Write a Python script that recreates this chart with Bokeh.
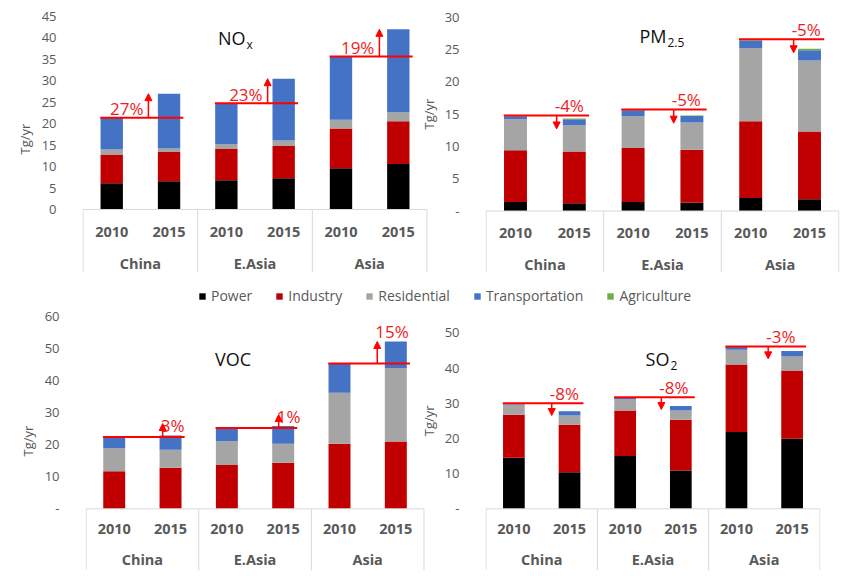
import math
from bokeh.plotting import figure
from bokeh.layouts import column, row
from bokeh.models import (ColumnDataSource, Range1d, FixedTicker, Title, Arrow,
                          NormalHead, Legend, LegendItem)
from bokeh.core.properties import value
from bokeh.embed import file_html
from bokeh.resources import INLINE

# ---------------- data ----------------
regions = ["China", "E.Asia", "Asia"]
years = ["2010", "2015"]
sectors = ["Power", "Industry", "Residential", "Transportation", "Agriculture"]
colors = ["#000000", "#c00000", "#a5a5a5", "#4472c4", "#70ad47"]

# order of bars: China 2010, China 2015, E.Asia 2010, E.Asia 2015, Asia 2010, Asia 2015
nox_power = [6.1, 6.6, 6.8, 7.3, 9.6, 10.6]
nox_industry = [6.7, 6.8, 7.3, 7.5, 9.3, 10.0]
nox_residential = [1.2, 0.8, 1.2, 1.3, 2.0, 2.1]
nox_transport = [7.4, 12.8, 9.5, 14.4, 14.8, 19.3]
nox_agriculture = [0.0, 0.0, 0.0, 0.0, 0.0, 0.0]
nox_change = ["27%", "23%", "19%"]

pm_power = [1.4, 1.2, 1.4, 1.3, 2.0, 1.8]
pm_industry = [8.0, 8.0, 8.35, 8.2, 11.9, 10.5]
pm_residential = [4.8, 4.1, 4.95, 4.2, 11.3, 11.0]
pm_transport = [0.45, 0.9, 0.9, 1.0, 1.2, 1.6]
pm_agriculture = [0.15, 0.1, 0.1, 0.1, 0.2, 0.2]
pm_change = ["-4%", "-5%", "-5%"]

voc_power = [0.0, 0.0, 0.0, 0.0, 0.0, 0.0]
voc_industry = [11.75, 12.8, 13.7, 14.35, 20.3, 21.0]
voc_residential = [7.15, 5.6, 7.4, 5.95, 15.9, 22.9]
voc_transport = [3.5, 4.5, 4.1, 5.5, 9.1, 8.3]
voc_agriculture = [0.0, 0.0, 0.0, 0.0, 0.0, 0.0]
voc_change = ["3%", "1%", "15%"]

so2_power = [14.5, 10.4, 15.0, 10.9, 21.8, 19.9]
so2_industry = [12.2, 13.5, 12.9, 14.4, 19.2, 19.4]
so2_residential = [2.9, 2.6, 3.2, 2.6, 4.2, 4.0]
so2_transport = [0.4, 1.2, 0.6, 1.3, 0.9, 1.5]
so2_agriculture = [0.0, 0.0, 0.0, 0.0, 0.0, 0.0]
so2_change = ["-8%", "-8%", "-3%"]

GREY = "#595959"
RED = "#ff0000"
FONT = "Open Sans"


def geometry(spec):
    scale = (spec["zero"] - spec["top"]) / spec["ymax"]
    slot = (spec["R"] - spec["L"]) / 6.0
    return scale, slot


def make_panel(spec, series, changes):
    ox, oy = spec["ox"], spec["oy"]
    L, R, T, B = spec["L"], spec["R"], spec["T"], spec["B"]
    FR = spec["FR"]
    zero, ymax, step = spec["zero"], spec["ymax"], spec["step"]
    scale, slot = geometry(spec)

    def px2x(px):
        return (px - L) / slot

    def px2y(py):
        return (zero - py) / scale

    y_end = px2y(T)
    y_start = px2y(B)
    p = figure(width=spec["w"], height=spec["h"], x_range=Range1d(-0.01, px2x(FR) + 0.01),
               y_range=Range1d(y_start, y_end), output_backend="svg",
               toolbar_location=None, x_axis_location=None,
               min_border_left=L - ox, min_border_right=ox + spec["w"] - FR,
               min_border_top=T - oy, min_border_bottom=oy + spec["h"] - B)
    p.outline_line_color = None
    p.grid.visible = False
    p.background_fill_color = "white"
    p.border_fill_color = "white"

    yax = p.yaxis[0]
    yax.ticker = FixedTicker(ticks=list(range(0, ymax + 1, step)))
    yax.axis_line_color = None
    yax.major_tick_line_color = None
    yax.minor_tick_line_color = None
    yax.major_label_standoff = 20
    yax.major_label_text_font = FONT
    yax.major_label_text_font_size = "13px"
    yax.major_label_text_color = GREY
    if spec["zero_label"] == "-":
        yax.major_label_overrides = {0: "-"}

    # y axis title (left panels carry it as a side title, centred on the tick range)
    if spec["own_ylabel"]:
        frame_mid = (T + B) / 2.0
        ylab_mid = zero - (ymax / 2.0) * scale
        p.add_layout(Title(text="Tg/yr", align="center", offset=frame_mid - ylab_mid,
                           text_font=FONT, text_font_size="13px", text_font_style="normal",
                           text_color=GREY), "left")

    # bars
    xs = []
    year_lbls = []
    for g, _ in enumerate(regions):
        for j, yv in enumerate(years):
            xs.append(g * 2 + j + 0.5)
            year_lbls.append(yv)
    data = {"x": xs}
    for s, vals in zip(sectors, series):
        data[s] = vals
    src = ColumnDataSource(data)
    p.vbar_stack(sectors, x="x", width=0.39, fill_color=colors, line_color=None, source=src)
    totals = [sum(v[i] for v in series) for i in range(len(xs))]

    # category axis (two levels)
    bounds = [0, 2, 4, 6]
    p.segment(x0=bounds, y0=[0] * 4, x1=bounds, y1=[y_start] * 4, line_color="#d9d9d9", line_width=1)
    p.segment(x0=[0], y0=[0], x1=[6], y1=[0], line_color="#d9d9d9", line_width=1)
    p.text(x=xs, y=[-spec["year_off"] / scale] * len(xs), text=year_lbls,
           text_align="center", text_baseline="middle", text_font=value(FONT),
           text_font_style="bold", text_font_size="14.5px", text_color=GREY)
    p.text(x=[g * 2 + 1 for g in range(len(regions))], y=[-spec["cty_off"] / scale] * len(regions),
           text=regions, text_align="center", text_baseline="middle", text_font=value(FONT),
           text_font_style="bold", text_font_size="14.5px", text_color=GREY)

    # change annotations
    min_len = 0.07 * ymax
    for g, lbl in enumerate(changes):
        t10, t15 = totals[g * 2], totals[g * 2 + 1]
        p.segment(x0=[g * 2 + 0.3], y0=[t10], x1=[g * 2 + 1.75], y1=[t10],
                  line_color=RED, line_width=2)
        xa = g * 2 + spec["arrow_x"][g]
        d = t15 - t10
        sign = 1 if d >= 0 else -1
        yend = t10 + sign * max(abs(d), min_len)
        p.add_layout(Arrow(end=NormalHead(size=7, fill_color=RED, line_color=RED, line_width=1),
                           x_start=xa, y_start=t10, x_end=xa, y_end=yend,
                           line_color=RED, line_width=1.5))
        if spec["label_side"] == "right":
            tx, ty, al = xa - 5 / slot, t10 + 9 / scale, "right"
        else:
            tx, ty, al = xa - 2 / slot, max(t10, t15) + 10 / scale, "left"
        p.text(x=[tx], y=[ty], text=[lbl], text_align=al, text_baseline="middle",
               text_font=value(FONT), text_font_size="17px", text_color="#ee1c25")

    # title with subscript
    main, sub = spec["title"]
    if sub:
        p.text(x=[px2x(spec["t_join"])], y=[px2y(spec["t_mid"])], text=[main],
               text_align="right", text_baseline="middle", text_font=value(FONT),
               text_font_size="18px", text_color="#111111")
        p.text(x=[px2x(spec["t_join"] + 1)], y=[px2y(spec["t_mid"] + 6.5)], text=[sub],
               text_align="left", text_baseline="middle", text_font=value(FONT),
               text_font_size="12px", text_color="#111111")
    else:
        p.text(x=[px2x(spec["t_join"])], y=[px2y(spec["t_mid"])], text=[main],
               text_align="center", text_baseline="middle", text_font=value(FONT),
               text_font_size="18px", text_color="#111111")
    return p


def add_neighbour_ylabel(p, spec, nspec):
    """The right-hand panel's 'Tg/yr' sits left of its figure, inside the left figure's frame."""
    scale, slot = geometry(spec)
    nscale, _ = geometry(nspec)
    mid_px = nspec["zero"] - (nspec["ymax"] / 2.0) * nscale
    p.text(x=[(nspec["ylab_x"] - spec["L"]) / slot], y=[(spec["zero"] - mid_px) / scale],
           text=["Tg/yr"], angle=math.pi / 2, text_align="center", text_baseline="middle",
           text_font=value(FONT), text_font_size="13px", text_color=GREY)


spec_nox = dict(ox=0, oy=0, w=440, h=280, L=82, R=427, FR=440, T=5, B=272, zero=209, top=16,
                ymax=45, step=5, zero_label="0", title=("NO", "x"), t_join=245, t_mid=37,
                year_off=22, cty_off=54, label_side="right", own_ylabel=True,
                arrow_x=[1.14, 1.22, 1.17])
spec_pm = dict(ox=440, oy=0, w=412, h=280, L=485, R=839, FR=839, T=5, B=272, zero=210.5, top=16.7,
               ymax=30, step=5, zero_label="-", title=("PM", "2.5"), t_join=666, t_mid=35,
               year_off=22, cty_off=53, label_side="left", own_ylabel=False, ylab_x=429,
               arrow_x=[1.20, 1.19, 1.23])
spec_voc = dict(ox=0, oy=308, w=440, h=268, L=85, R=424, FR=440, T=311, B=570, zero=508.3, top=316,
                ymax=60, step=10, zero_label="-", title=("VOC", ""), t_join=232.5, t_mid=358,
                year_off=20, cty_off=51, label_side="left", own_ylabel=True,
                arrow_x=[1.36, 1.42, 1.17])
spec_so2 = dict(ox=440, oy=308, w=412, h=268, L=485, R=820, FR=820, T=311, B=570, zero=508.3, top=332.3,
                ymax=50, step=10, zero_label="-", title=("SO", "2"), t_join=669, t_mid=358,
                year_off=20, cty_off=51, label_side="left", own_ylabel=False, ylab_x=429,
                arrow_x=[1.18, 1.15, 1.07])

p1 = make_panel(spec_nox, [nox_power, nox_industry, nox_residential, nox_transport, nox_agriculture], nox_change)
p2 = make_panel(spec_pm, [pm_power, pm_industry, pm_residential, pm_transport, pm_agriculture], pm_change)
p3 = make_panel(spec_voc, [voc_power, voc_industry, voc_residential, voc_transport, voc_agriculture], voc_change)
p4 = make_panel(spec_so2, [so2_power, so2_industry, so2_residential, so2_transport, so2_agriculture], so2_change)
add_neighbour_ylabel(p1, spec_nox, spec_pm)
add_neighbour_ylabel(p3, spec_voc, spec_so2)

# legend strip
pl = figure(width=852, height=28, x_range=Range1d(0, 852), y_range=Range1d(0, 28),
            output_backend="svg", toolbar_location=None, x_axis_location=None,
            y_axis_location=None, min_border=0)
pl.outline_line_color = None
pl.grid.visible = False
items = []
for s, c in zip(sectors, colors):
    r = pl.vbar(x=[-100], top=[-100], width=1, fill_color=c, line_color=None)
    items.append(LegendItem(label=s, renderers=[r]))
leg = Legend(items=items, orientation="horizontal", location=(198, 3),
             glyph_width=8, glyph_height=8, label_standoff=5, spacing=23,
             label_height=18, padding=0, margin=0, border_line_color=None,
             background_fill_alpha=0, label_text_font=FONT,
             label_text_font_size="14px", label_text_color=GREY)
pl.add_layout(leg, "center")

layout = column(row(p1, p2), pl, row(p3, p4))
open("out.html", "w").write(file_html(layout, INLINE))
